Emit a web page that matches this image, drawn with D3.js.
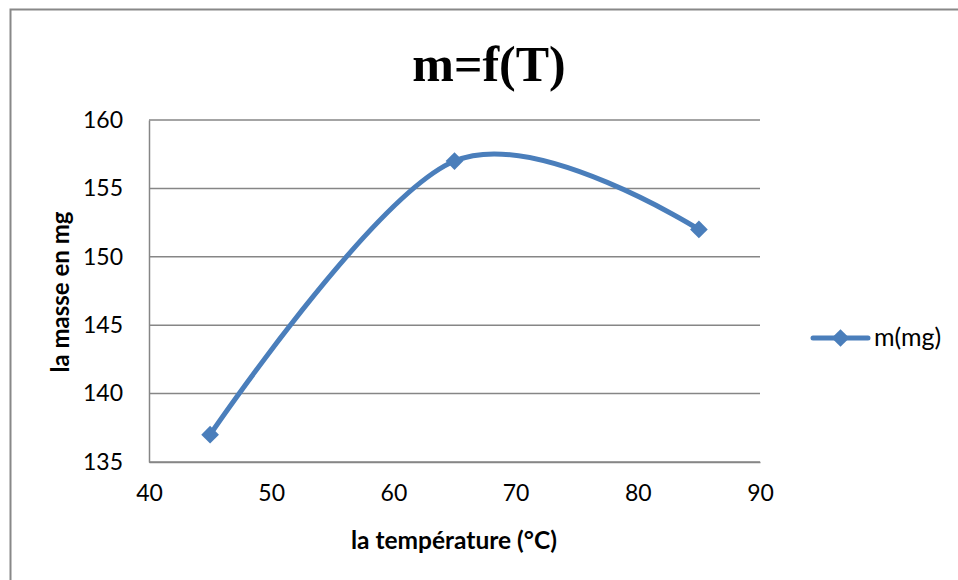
<!DOCTYPE html>
<html><head><meta charset="utf-8">
<script src="https://cdn.jsdelivr.net/npm/d3@7"></script>
<style>body{margin:0;background:#fff}svg{display:block}</style>
</head><body>
<svg id="c" width="958" height="580"></svg>
<script>
const temperatures = [45, 65, 85];
const masses = [137, 157, 152];
const xTicks = [40, 50, 60, 70, 80, 90];
const yTicks = [135, 140, 145, 150, 155, 160];
const seriesName = "m(mg)";
const title = "m=f(T)";
const xTitle = "la température (°C)";
const yTitle = "la masse en mg";

(function () {
const svg = d3.select("#c");
const pL = 149, pR = 760, pT = 120, pB = 462;
const blue = "#4a7ebb", grid = "#868686";
const font = "Lato, 'Open Sans', sans-serif";

svg.append("rect").attr("x", 10.5).attr("y", 9.5).attr("width", 1000).attr("height", 700)
  .attr("fill", "#fff").attr("stroke", "#888").attr("stroke-width", 2);

const x = d3.scaleLinear().domain([40, 90]).range([pL, pR]);
const y = d3.scaleLinear().domain([135, 160]).range([pB, pT]);

svg.append("g").selectAll("line").data(yTicks).join("line")
  .attr("x1", pL).attr("x2", pR)
  .attr("y1", d => y(d)).attr("y2", d => y(d))
  .attr("stroke", grid).attr("stroke-width", 1.5);

const yAxis = d3.axisLeft(y).tickValues(yTicks).tickSize(0).tickPadding(26);
const gy = svg.append("g").attr("transform", `translate(${pL},0)`).call(yAxis);
gy.select(".domain").attr("stroke", grid).attr("stroke-width", 1.5);
gy.selectAll("text").attr("font-family", font).attr("font-size", 23).attr("fill", "#000");

const xAxis = d3.axisBottom(x).tickValues(xTicks).tickSize(0).tickPadding(23);
const gx = svg.append("g").attr("transform", `translate(0,${pB})`).call(xAxis);
gx.select(".domain").attr("stroke", grid).attr("stroke-width", 1.5);
gx.selectAll("text").attr("font-family", font).attr("font-size", 23).attr("fill", "#000");

const pts = temperatures.map((t, i) => [x(t), y(masses[i])]);
svg.append("path").attr("d", d3.line().curve(d3.curveCardinal.tension(0))(pts))
  .attr("fill", "none").attr("stroke", blue).attr("stroke-width", 5).attr("stroke-linecap", "round");

const diamond = d3.symbol().type(d3.symbolDiamond2).size(200);
svg.append("g").selectAll("path").data(pts).join("path")
  .attr("transform", d => `translate(${d[0]},${d[1]})`)
  .attr("d", diamond).attr("fill", blue);

svg.append("text").attr("x", 489).attr("y", 81).attr("text-anchor", "middle")
  .attr("font-family", "'Liberation Serif', serif").attr("font-weight", "bold")
  .attr("font-size", 50).text(title);

svg.append("text").attr("x", 454).attr("y", 549).attr("text-anchor", "middle")
  .attr("font-family", font).attr("font-weight", "bold").attr("font-size", 24.5).text(xTitle);
svg.append("text").attr("transform", "translate(69,292) rotate(-90)").attr("text-anchor", "middle")
  .attr("font-family", font).attr("font-weight", "bold").attr("font-size", 24).text(yTitle);

const lg = svg.append("g").attr("transform", "translate(813,338)");
lg.append("line").attr("x1", 0).attr("x2", 55).attr("y1", 0).attr("y2", 0)
  .attr("stroke", blue).attr("stroke-width", 5).attr("stroke-linecap", "round");
lg.append("path").attr("transform", "translate(27.5,0)").attr("d", diamond).attr("fill", blue);
lg.append("text").attr("x", 61).attr("y", 8).attr("font-family", font).attr("font-size", 25).text(seriesName);
})();
</script>
</body></html>
